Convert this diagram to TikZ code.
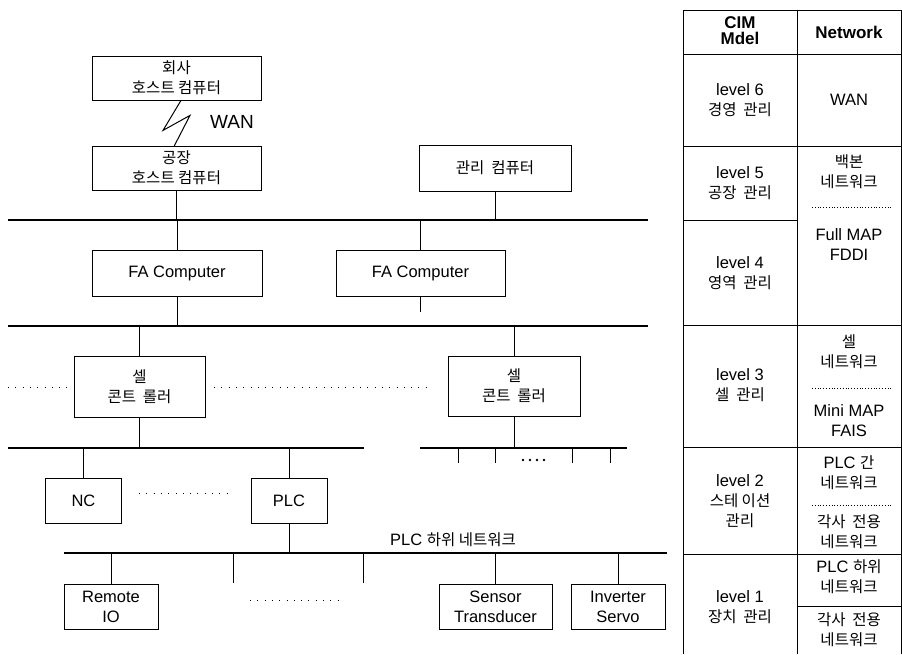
\documentclass[tikz,border=0pt]{standalone}
\usepackage{fontspec}
\setmainfont{Liberation Sans}
\newfontfamily\krfont{Noto Sans CJK KR}
\newcommand{\kr}[1]{{\krfont\fontsize{15.5}{20}\selectfont #1}}

\begin{document}
\begin{tikzpicture}[x=1pt, y=-1pt,
    box/.style={draw, line width=0.8pt, align=center, inner sep=2pt,
      font=\fontsize{16.5}{20}\selectfont},
    lbl/.style={align=center, inner sep=0pt, font=\fontsize{16.5}{20}\selectfont},
    head/.style={lbl, font=\fontsize{17}{17}\selectfont\bfseries},
    bus/.style={line width=1.4pt},
    link/.style={line width=1pt},
    grid/.style={line width=0.8pt},
    dotline/.style={line width=1pt, dash pattern=on 0.8pt off 6.5pt},
    fineline/.style={line width=0.7pt, dash pattern=on 0.6pt off 2.2pt}]
    \useasboundingbox (0,0) rectangle (902,654);

    % Hosts
    \node[box, minimum width=169, minimum height=44] (office) at (176.5,78) {\kr{회사}\\\kr{호스트 컴퓨터}};
    \node[box, minimum width=169, minimum height=44] (host) at (176.5,168) {\kr{공장}\\\kr{호스트 컴퓨터}};
    \node[box, minimum width=152, minimum height=46] (mgr) at (495,168) {\kr{관리 \ 컴퓨터}};

    % WAN link
    \draw[link] (office.south) ++(4.5,0) -- ++(-18,30) -- ++(27,-15) -- ++(-16,31);
    \node[lbl, font=\fontsize{19}{22}\selectfont] (wan) at (232,122) {WAN};

    % Buses
    \coordinate (bus1) at (8,220);
    \coordinate (bus2) at (8,326);
    \coordinate (bus3) at (8,448);
    \coordinate (bus4) at (64,553);
    \draw[bus] (bus1) -- (648,220);
    \draw[bus] (bus2) -- (648,326);
    \draw[bus] (bus3) -- (364,448);
    \draw[bus] (420,448) -- (627,448);
    \draw[bus] (bus4) -- (667,553);
    \node[lbl] (plcbus) at (453,540) {PLC \kr{하위 네트워크}};

    % FA computers
    \node[box, minimum width=170, minimum height=46] (fa1) at (177,273.5) {FA Computer};
    \node[box, minimum width=169, minimum height=46] (fa2) at (420.5,273.5) {FA Computer};

    % Cell controllers
    \node[box, minimum width=131, minimum height=61] (cell1) at (139.5,386.5) {\kr{셀}\\\kr{콘트 \ 롤러}};
    \node[box, minimum width=132, minimum height=60] (cell2) at (514,386) {\kr{셀}\\\kr{콘트 \ 롤러}};
    \draw[dotline] (8,387) -- (70,387);
    \draw[dotline] (214,387) -- (432,387);

    % Devices
    \node[box, minimum width=76, minimum height=45] (nc) at (83.5,500.5) {NC};
    \node[box, minimum width=76, minimum height=45] (plc) at (289,500.5) {PLC};
    \draw[dotline] (139,493) -- (231,493);
    \node[box, minimum width=94, minimum height=45] (rio) at (111,606.5) {Remote\\IO};
    \node[box, minimum width=113, minimum height=45] (sens) at (495.5,606.5) {Sensor\\Transducer};
    \node[box, minimum width=94, minimum height=45] (inv) at (618,606.5) {Inverter\\Servo};
    \draw[dotline] (250,600) -- (340,600);

    % Drops to the buses
    \draw[link] (host.south) -- (host.south |- bus1);
    \draw[link] (mgr.south) -- (mgr.south |- bus1);
    \draw[link] (fa1.north) -- (fa1.north |- bus1);
    \draw[link] (fa1.south) -- (fa1.south |- bus2);
    \draw[link] (fa2.north) -- (fa2.north |- bus1);
    \draw[link] (fa2.south) -- ++(0,15);
    \draw[link] (cell1.north) -- (cell1.north |- bus2);
    \draw[link] (cell2.north) -- (cell2.north |- bus2);
    \draw[link] (cell1.south) -- (cell1.south |- bus3);
    \draw[link] (cell2.south) -- (cell2.south |- bus3);
    \draw[link] (nc.north) -- (nc.north |- bus3);
    \draw[link] (plc.north) -- (plc.north |- bus3);
    \draw[link] (plc.south) -- (plc.south |- bus4);
    \draw[link] (rio.north) -- (rio.north |- bus4);
    \draw[link] (sens.north) -- (sens.north |- bus4);
    \draw[link] (inv.north) -- (inv.north |- bus4);

    % Open taps
    \foreach \x in {458,495,572,610}
      \draw[link] (\x,448) -- (\x,463);
    \foreach \x in {523,530,537,544}
      \fill (\x,460) circle (1.4);
    \foreach \x in {233,363}
      \draw[link] (\x,553) -- (\x,583);

    % Table frame
    \foreach \y in {10,54,146,325,447,554}
      \draw[grid] (683,\y) -- (902,\y);
    \draw[grid] (683,220) -- (797,220);
    \draw[grid] (797,606) -- (902,606);
    \foreach \x in {683,797,901.4}
      \draw[grid] (\x,10) -- (\x,654);
    \foreach \y in {207,388,505}
      \draw[fineline] (812,\y) -- (892,\y);

    % Table texts
    \node[head] (cim) at (740,31) {CIM\\[-1pt]Mdel};
    \node[head] (net) at (849,32) {Network};
    \node[lbl] (lv6) at (740,100) {level 6\\\kr{경영 \ 관리}};
    \node[lbl] (wanrow) at (849,100) {WAN};
    \node[lbl] (lv5) at (740,183) {level 5\\\kr{공장 \ 관리}};
    \node[lbl] (backbone) at (849,172) {\kr{백본}\\\kr{네트워크}};
    \node[lbl] (fullmap) at (849,245) {Full MAP\\FDDI};
    \node[lbl] (lv4) at (740,273) {level 4\\\kr{영역 \ 관리}};
    \node[lbl] (cellnet) at (849,352) {\kr{셀}\\\kr{네트워크}};
    \node[lbl] (minimap) at (849,421) {Mini MAP\\FAIS};
    \node[lbl] (lv3) at (740,385) {level 3\\\kr{셀 \ 관리}};
    \node[lbl] (plcnet) at (849,473) {PLC \kr{간}\\\kr{네트워크}};
    \node[lbl] (ownnet2) at (849,532) {\kr{각사 \ 전용}\\\kr{네트워크}};
    \node[lbl] (lv2) at (740,501) {level 2\\\kr{스테 이션}\\\kr{관리}};
    \node[lbl] (plclow) at (849,577) {PLC \kr{하위}\\\kr{네트워크}};
    \node[lbl] (ownnet1) at (849,630) {\kr{각사 \ 전용}\\\kr{네트워크}};
    \node[lbl] (lv1) at (740,607) {level 1\\\kr{장치 \ 관리}};
\end{tikzpicture}
\end{document}
